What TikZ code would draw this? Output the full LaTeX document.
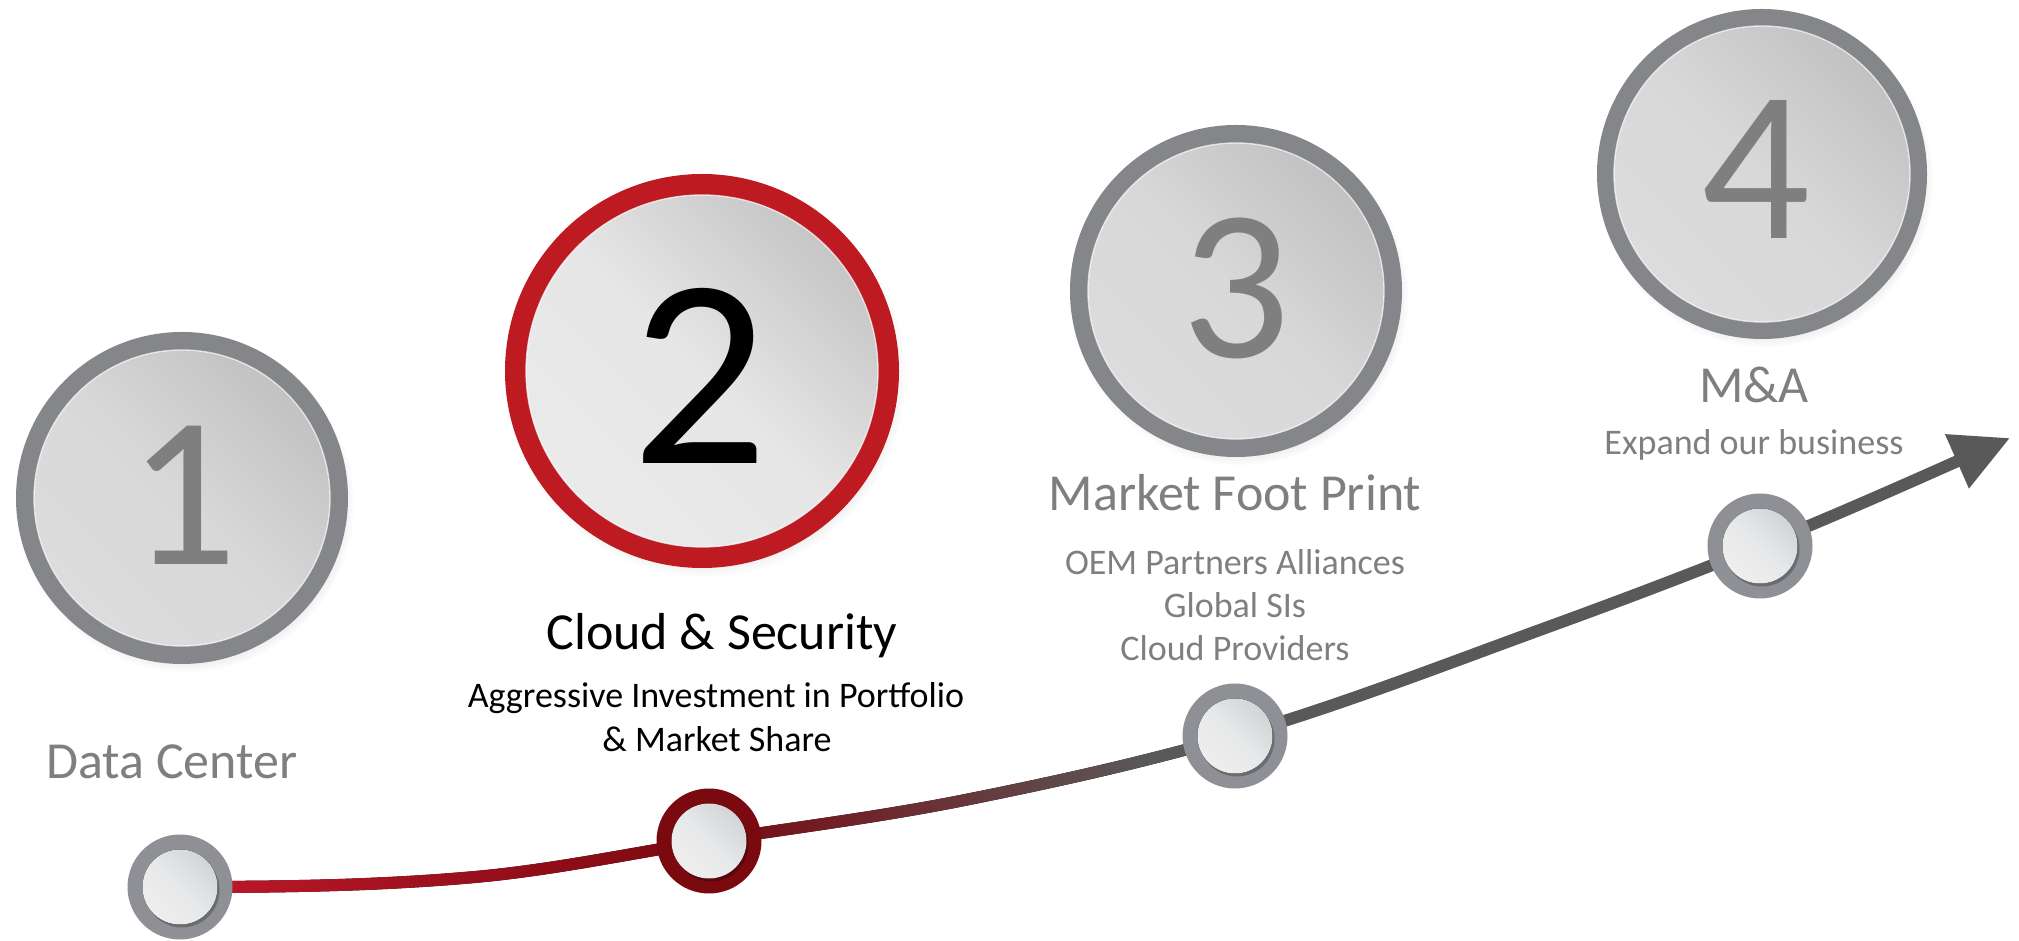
\documentclass[tikz,border=0pt]{standalone}
\usepackage{fontspec}
\setmainfont{Carlito}
\usetikzlibrary{arrows.meta,shadows}
\pgfdeclarelayer{background}
\pgfsetlayers{background,main}
\definecolor{ringgray}{HTML}{85868A}
\definecolor{txtgray}{HTML}{7F7F7F}
\definecolor{ringred}{HTML}{BE1A22}
\definecolor{darkred}{HTML}{7A0910}
\definecolor{smallring}{HTML}{8F9096}
\definecolor{linegray}{HTML}{595959}
\definecolor{linered}{HTML}{C0182B}
\definecolor{gtop}{HTML}{C2C2C2}
\definecolor{gmid}{HTML}{D8D8D8}
\definecolor{gbot}{HTML}{DCDCDC}
\definecolor{ltop}{HTML}{C6C6C6}
\definecolor{lmid}{HTML}{E6E6E6}
\definecolor{lbot}{HTML}{EAEAEA}
\definecolor{stop}{HTML}{D3D4D5}
\definecolor{smid}{HTML}{E7E8E9}
\definecolor{sbot}{HTML}{EEEEEE}
% the path's bounding box is mapped onto 25bp..75bp of the shading
\pgfdeclarehorizontalshading{trail}{100bp}{color(0bp)=(linered); color(25bp)=(linered); color(50bp)=(darkred); color(71bp)=(linegray); color(100bp)=(linegray)}
\tikzset{
  bigring/.style={circle, inner sep=0pt, minimum size=#1,
    circular drop shadow={shadow xshift=3pt, shadow yshift=-5pt, shadow scale=1.02, opacity=.3}},
  grayshade/.style={top color=gtop, bottom color=gbot, middle color=gmid, shading angle=-45},
  lightshade/.style={top color=ltop, bottom color=lbot, middle color=lmid, shading angle=-45},
  innerhl/.style={draw=white, draw opacity=.75, line width=1.3pt},
  smallc/.style={circle, inner sep=0pt, minimum size=105pt},
  smallinner/.style={top color=stop, bottom color=sbot, middle color=smid, shading angle=-45},
  digit/.style={anchor=base, inner sep=0pt, font=\fontsize{215}{215}\selectfont, text=txtgray},
  bigtitle/.style={anchor=base, inner sep=0pt, font=\fontsize{52}{62}\selectfont},
  subtitle/.style={anchor=base, inner sep=0pt, font=\fontsize{36}{43}\selectfont},
}
\begin{document}
\begin{tikzpicture}[x=1pt,y=1pt]
\useasboundingbox (0,0) rectangle (2019,941);

% waypoints on the timeline
\node[smallc, fill=smallring] (s1) at (180,54) {};
\node[smallc, fill=darkred] (s2) at (709,100) {};
\node[smallc, fill=smallring] (s3) at (1235,205) {};
\node[smallc, fill=smallring] (s4) at (1760,395) {};
\coordinate (m1) at (475,64);
\coordinate (m2) at (965,141);
\coordinate (m3) at (1548,314);
\coordinate (tip) at (2010,503);

\foreach \s/\sh in {s1/smallring!55!black, s2/darkred!55!black, s3/smallring!55!black, s4/smallring!55!black}{
  \fill[\sh, opacity=.55] ([xshift=2pt,yshift=-3pt]\s.center) circle[radius=37.5pt];
  \fill[smallinner] (\s.center) circle[radius=37.5pt];
}

\begin{pgfonlayer}{background}
% gradient part of the timeline (red -> dark red -> gray)
\fill[shading=trail]
  ([yshift=6pt]s1.center) .. controls +(98.3,0) and +(-98.3,-8.85) .. ([yshift=6pt]m1)
  .. controls +(78,7.02) and +(-78,-12.25) .. ([yshift=6pt]s2.center)
  .. controls +(85.3,13.4) and +(-85.3,-17.1) .. ([yshift=6pt]m2)
  .. controls +(90,18) and +(-90,-26.1) .. ([yshift=6pt]s3.center)
  -- ([yshift=-6pt]s3.center)
  .. controls +(-90,-26.1) and +(90,18) .. ([yshift=-6pt]m2)
  .. controls +(-85.3,-17.1) and +(85.3,13.4) .. ([yshift=-6pt]s2.center)
  .. controls +(-78,-12.25) and +(78,7.02) .. ([yshift=-6pt]m1)
  .. controls +(-98.3,-8.85) and +(98.3,0) .. ([yshift=-6pt]s1.center) -- cycle;
% gray part with arrow head
\draw[linegray, line width=12pt, -{Triangle[length=58pt,width=56pt]}]
  (s3.center) .. controls +(104.3,30.2) and +(-104.3,-38) .. (m3)
  .. controls +(70.7,25.7) and +(-70.7,-28.6) .. (s4.center)
  .. controls +(83.3,33.7) and +(-83.3,-36.7) .. (tip);
\end{pgfonlayer}

% big numbered circles
\node[bigring=332pt, fill=ringgray] (c1) at (182,443) {};
\fill[grayshade] (c1.center) circle[radius=148pt];
\draw[innerhl] (c1.center) circle[radius=148pt];
\node[digit] (n1) at (183,376) {1};

\node[bigring=394pt, fill=ringred] (c2) at (702,570) {};
\fill[lightshade] (c2.center) circle[radius=176pt];
\draw[innerhl] (c2.center) circle[radius=176pt];
\node[digit, text=black, font=\fontsize{270}{270}\selectfont] (n2) at (700,477) {2};

\node[bigring=332pt, fill=ringgray] (c3) at (1236,650) {};
\fill[grayshade] (c3.center) circle[radius=148pt];
\draw[innerhl] (c3.center) circle[radius=148pt];
\node[digit] (n3) at (1236,583) {3};

\node[bigring=330pt, fill=ringgray] (c4) at (1762,767) {};
\fill[grayshade] (c4.center) circle[radius=148pt];
\draw[innerhl] (c4.center) circle[radius=148pt];
\node[digit] (n4) at (1756,702) {4};

% labels
\node[bigtitle, text=txtgray] (t1) at (172,162) {Data Center};

\node[bigtitle, text=black] (t2) at (722,291) {Cloud \& Security};
\node[subtitle, text=black] (t2a) at (716,233) {Aggressive Investment in Portfolio};
\node[subtitle, text=black] (t2b) at (717,189) {\& Market Share};

\node[bigtitle, text=txtgray] (t3) at (1235,430) {Market Foot Print};
\node[subtitle, text=txtgray] (t3a) at (1235,366) {OEM Partners Alliances};
\node[subtitle, text=txtgray] (t3b) at (1235,323) {Global SIs};
\node[subtitle, text=txtgray] (t3c) at (1235,280) {Cloud Providers};

\node[bigtitle, text=txtgray] (t4) at (1754,538) {M\&A};
\node[subtitle, text=txtgray] (t4a) at (1754,486) {Expand our business};
\end{tikzpicture}
\end{document}
